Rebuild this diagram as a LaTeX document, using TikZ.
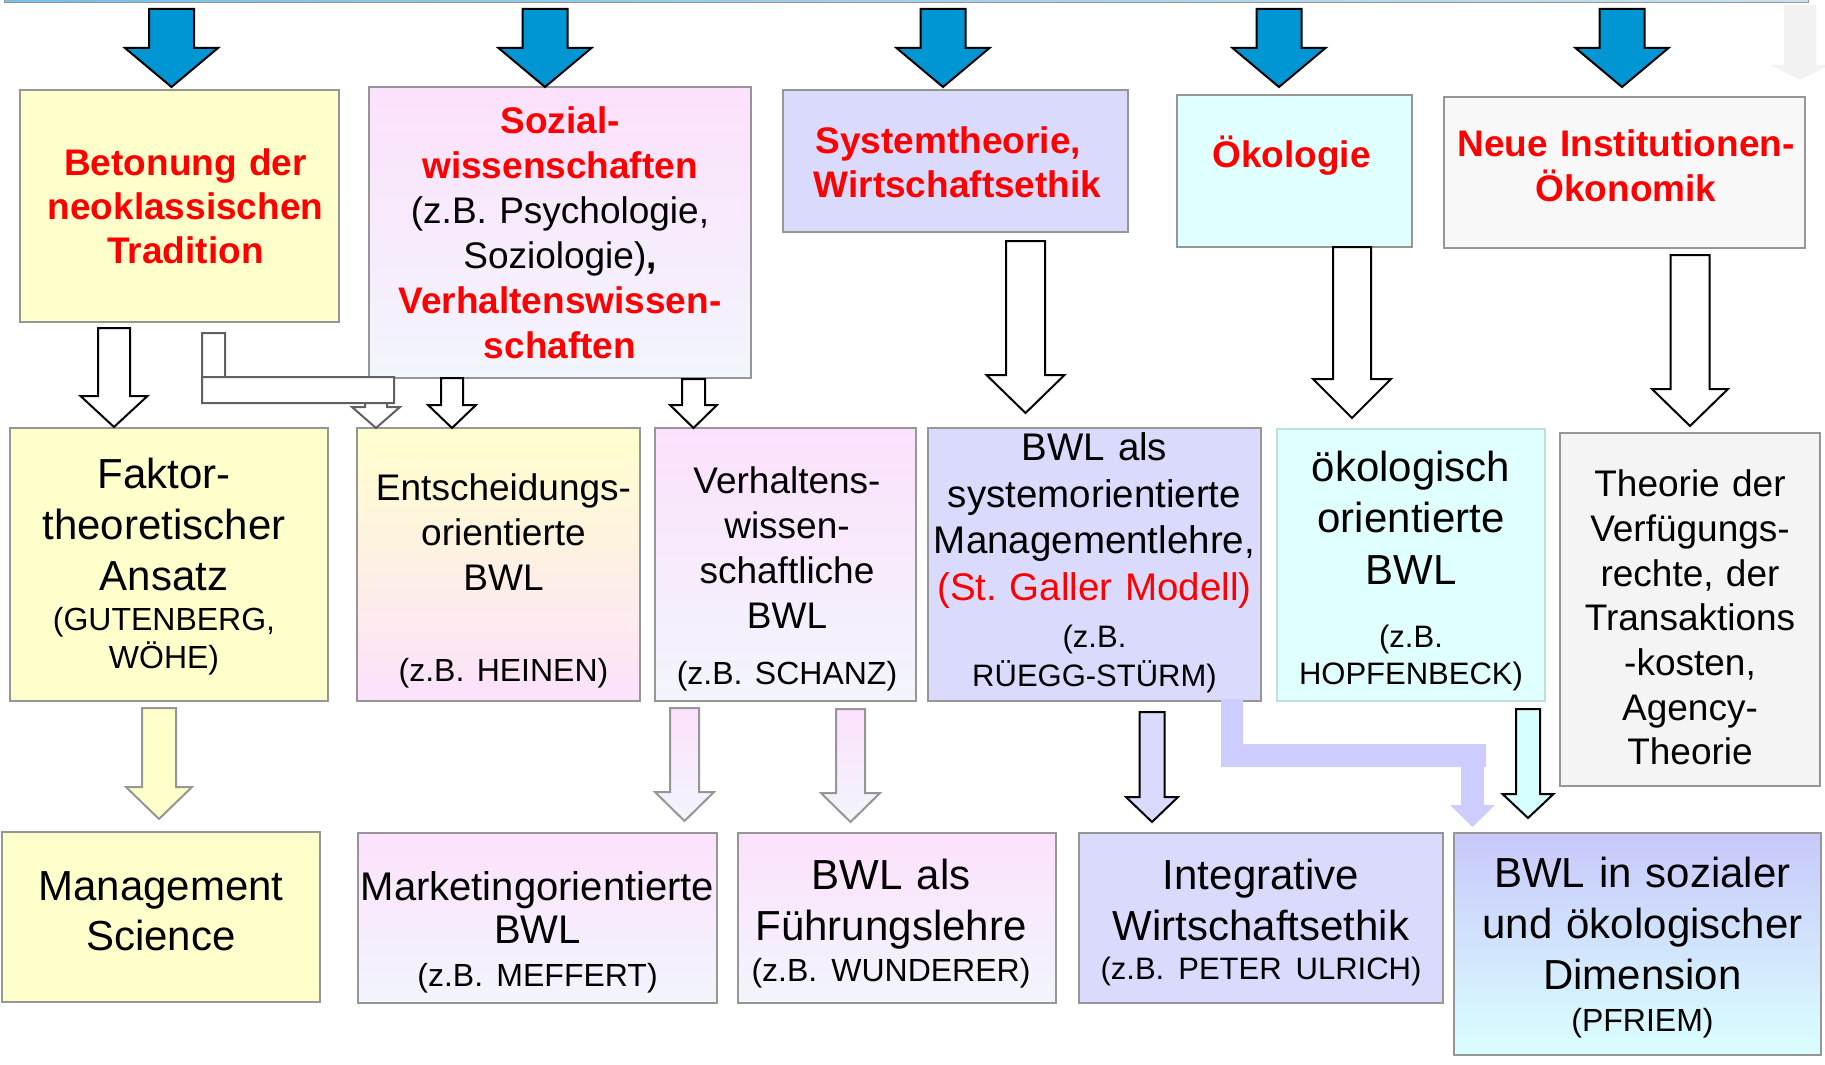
\documentclass[tikz,border=0pt]{standalone}
\usepackage{fontspec}
\setmainfont{Liberation Sans}
\usetikzlibrary{calc}
\frenchspacing

\definecolor{yel}{RGB}{255,255,204}
\definecolor{pinkT}{RGB}{252,225,252}
\definecolor{pinkB}{RGB}{242,245,252}
\definecolor{lav}{RGB}{218,218,252}
\definecolor{lavA}{RGB}{204,204,255}
\definecolor{cyn}{RGB}{224,255,255}
\definecolor{cynA}{RGB}{216,255,255}
\definecolor{cynframe}{RGB}{192,222,222}
\definecolor{gry}{RGB}{244,244,244}
\definecolor{gryW}{RGB}{248,248,248}
\definecolor{frame}{RGB}{150,150,150}
\definecolor{elbgrey}{RGB}{96,96,96}
\definecolor{bluearr}{RGB}{0,150,212}
\definecolor{redtxt}{RGB}{255,0,0}
\definecolor{b5top}{RGB}{200,200,250}
\definecolor{b5bot}{RGB}{218,255,255}
\definecolor{barL}{RGB}{120,190,230}
\definecolor{barM}{RGB}{0,110,180}
\definecolor{barR}{RGB}{200,225,240}

\newcommand\fsz[2]{\fontsize{#1}{#2}\selectfont}

\tikzset{
  box/.style={draw=frame, line width=2pt, anchor=north west, inner sep=0pt, outer sep=0pt},
  lbl/.style={align=center, text width=420pt, inner sep=0pt},
  toptxt/.style={lbl, font=\fsz{37}{44}\bfseries, text=redtxt},
  blk/.code args={#1/#2/#3}{\def\bsw{#1}\def\bhw{#2}\def\bhl{#3}},
  gaps/.code args={#1/#2}{\def\bgt{#1}\def\bgb{#2}},
  hollow/.style={draw=black, line width=2pt, fill=white},
  soft/.style={draw=frame, line width=2pt},
  bluearrow/.style={fill=bluearr, draw=black, line width=2pt, blk=22.5/46.5/39},
}

% block arrow: [style]{from anchor}{to anchor}{x of the axis}
\newcommand\blockarr[4][]{%
  \path[#1] let \p1=#2, \p2=#3, \n1={\y1-\bgt}, \n2={\y2+\bgb}, \n3={\n2+\bhl} in
    (#4-\bsw,\n1) -- (#4+\bsw,\n1) -- (#4+\bsw,\n3) -- (#4+\bhw,\n3)
    -- (#4,\n2) -- (#4-\bhw,\n3) -- (#4-\bsw,\n3) -- cycle;}

\begin{document}
\begin{tikzpicture}[x=1pt,y=1pt]
  \useasboundingbox (0,0) rectangle (1825,-1065);

  \node[draw=frame, line width=1pt, outer sep=0pt, inner sep=0pt, anchor=north west,
        minimum width=1804pt, minimum height=5pt,
        left color=barL, middle color=barM, right color=barR] (bar) at (4,2) {};

  % top row
  \node[box, fill=yel, minimum width=319pt, minimum height=232pt] (t1) at (20,-90) {};
  \node[box, top color=pinkT, bottom color=pinkB, minimum width=382pt, minimum height=291pt] (t2) at (369,-87) {};
  \node[box, fill=lav, minimum width=345pt, minimum height=142pt] (t3) at (783,-90) {};
  \node[box, fill=cyn, minimum width=235pt, minimum height=152pt] (t4) at (1177,-95) {};
  \node[box, fill=gryW, minimum width=361pt, minimum height=151pt] (t5) at (1444,-97) {};

  \node[toptxt] (t1l) at ([xshift=6pt]t1.center) {Betonung der\par neoklassischen\par Tradition};
  \node[toptxt, font=\fsz{37}{45}\bfseries] (t2l) at (t2.center)
    {Sozial-\par wissenschaften\par
     \textcolor{black}{\mdseries\fsz{37}{45}(z.B. Psychologie,}\par
     \textcolor{black}{{\mdseries\fsz{37}{45}Soziologie)},}\par
     Verhaltenswissen-\par schaften};
  \node[toptxt] (t3l) at ([xshift=2pt,yshift=-1.5pt]t3.center) {Systemtheorie,\kern0.5em\par Wirtschaftsethik};
  \node[toptxt] (t4l) at ([xshift=-3pt,yshift=15.5pt]t4.center) {Ökologie};
  \node[toptxt, font=\fsz{37}{45}\bfseries] (t5l) at ([xshift=1.5pt,yshift=6.5pt]t5.center) {Neue Institutionen-\par Ökonomik};

  % middle row
  \node[box, fill=yel, minimum width=318pt, minimum height=273pt] (m1) at (10,-428) {};
  \node[box, top color=yel, bottom color=pinkT, minimum width=283pt, minimum height=273pt] (m2) at (357,-428) {};
  \node[box, top color=pinkT, bottom color=pinkB, minimum width=261pt, minimum height=273pt] (m3) at (655,-428) {};
  \node[box, fill=lav, minimum width=333pt, minimum height=273pt] (m4) at (928,-428) {};
  \node[box, draw=cynframe, fill=cyn, minimum width=268pt, minimum height=272pt] (m5) at (1277,-429) {};
  \node[box, fill=gry, minimum width=260pt, minimum height=353pt] (m6) at (1560,-433) {};

  \node[lbl, font=\fsz{42}{51.3}] (m1l) at ([xshift=-5pt,yshift=-2.2pt]m1.center)
    {Faktor-\par theoretischer\par Ansatz\par\vskip-11.8pt\relax
     \fsz{32}{51.3}(GUTENBERG,\par\vskip-12.8pt\relax WÖHE)};
  \node[lbl, font=\fsz{37}{45}] (m2l) at ([xshift=5pt,yshift=-16.6pt]m2.center)
    {Entscheidungs-\par orientierte\par BWL\par\vskip45.7pt\relax
     \fsz{32}{45}(z.B. HEINEN)};
  \node[lbl, font=\fsz{37}{44.7}] (m3l) at ([xshift=1.5pt,yshift=-14.5pt]m3.center)
    {Verhaltens-\par wissen-\par schaftliche\par BWL\par\vskip11.5pt\relax
     \fsz{32}{44.7}(z.B. SCHANZ)};
  \node[lbl, font=\fsz{38.5}{46.5}] (m4l) at ([yshift=1.5pt]m4.center)
    {BWL als\par systemorientierte\par Managementlehre,\par
     \textcolor{redtxt}{(St. Galler Modell)}\par\vskip0.7pt\relax
     \fsz{31}{46.5}(z.B.\par\vskip-7pt\relax RÜEGG-STÜRM)};
  \node[lbl, font=\fsz{42}{51.5}] (m5l) at ([yshift=-6pt]m5.center)
    {ökologisch\par orientierte\par BWL\par\vskip11.3pt\relax
     \fsz{31}{51.5}(z.B.\par\vskip-14pt\relax HOPFENBECK)};
  \node[lbl, font=\fsz{37}{44.7}] (m6l) at ([yshift=-8pt]m6.center)
    {Theorie der\par Verfügungs-\par rechte, der\par Transaktions\par -kosten,\par Agency-\par Theorie};

  % bottom row
  \node[box, fill=yel, minimum width=318pt, minimum height=170pt] (b1) at (2,-832) {};
  \node[box, top color=pinkT, bottom color=pinkB, minimum width=359pt, minimum height=170pt] (b2) at (358,-833) {};
  \node[box, top color=pinkT, bottom color=pinkB, minimum width=318pt, minimum height=170pt] (b3) at (738,-833) {};
  \node[box, fill=lav, minimum width=364pt, minimum height=170pt] (b4) at (1079,-833) {};
  \node[box, top color=b5top, bottom color=b5bot, minimum width=367pt, minimum height=222pt] (b5) at (1454,-833) {};

  \node[lbl, font=\fsz{42}{50}] (b1l) at ([yshift=6pt]b1.center) {Management\par Science};
  \node[lbl, font=\fsz{40}{43}] (b2l) at ([yshift=-14.5pt]b2.center)
    {Marketingorientierte\par BWL\par\fsz{32}{43}(z.B. MEFFERT)};
  \node[lbl, font=\fsz{42}{51}] (b3l) at ([xshift=-6pt,yshift=-5.6pt]b3.center)
    {BWL als\par Führungslehre\par\vskip-10.5pt\relax\fsz{32}{51}(z.B. WUNDERER)};
  \node[lbl, font=\fsz{42}{51}] (b4l) at ([yshift=-4.4pt]b4.center)
    {Integrative\par Wirtschaftsethik\par\vskip-11.6pt\relax\fsz{31}{51}(z.B. PETER ULRICH)};
  \node[lbl, font=\fsz{42}{51}] (b5l) at ([xshift=5pt,yshift=-3.5pt]b5.center)
    {BWL in sozialer\par und ökologischer\par Dimension\par\vskip-9.8pt\relax\fsz{32}{51}(PFRIEM)};

  % arrows from the bar
  \foreach \xa/\tb/\tg in {171.5/t1/3, 545/t2/0, 943/t3/3, 1279/t4/8, 1622/t5/10}
    \blockarr[bluearrow, gaps=6/\tg]{(bar.south)}{(\tb.north)}{\xa};
  \coordinate (fend) at (1800,-80);
  \blockarr[fill=black!5, blk=16/30/15, gaps=2/0]{(bar.south)}{(fend)}{1800};

  % top row -> middle row
  \blockarr[hollow, blk=16/33.5/31, gaps=6/1]{(t1.south)}{(m1.north)}{114};
  \blockarr[hollow, blk=11/24/23, gaps=0/0]{(t2.south)}{(m2.north)}{452};
  \blockarr[hollow, blk=11.5/23.5/23, gaps=1/0]{(t2.south)}{(m3.north)}{693.5};
  \blockarr[hollow, blk=19.5/39/38, gaps=9/15]{(t3.south)}{(m4.north)}{1025.5};
  \blockarr[hollow, blk=19/39/39, gaps=0/11]{(t4.south)}{(m5.north)}{1352};
  \blockarr[hollow, blk=19.5/38/37, gaps=7/7]{(t5.south)}{(m6.north)}{1690};
  \path[draw=elbgrey, line width=2pt, fill=white] let \p1=(t1.south), \p2=(m2.north) in
    (202,\y1-11) rectangle (225,-377)
    (202,-377) rectangle (394,-403)
    (365,-403) -- (387,-403) -- (387,-407) -- (400,-407) -- (376,\y2)
    -- (352,-407) -- (365,-407) -- cycle;

  % middle row -> bottom row
  \blockarr[soft, fill=yel, blk=17/33/32, gaps=7/13]{(m1.south)}{(b1.north)}{159};
  \blockarr[soft, top color=pinkT, bottom color=pinkB, blk=14.5/29.5/29, gaps=7/12]{(m3.south)}{(b2.north)}{684.5};
  \blockarr[soft, top color=pinkT, bottom color=pinkB, blk=14.5/29.5/29, gaps=8/11]{(m3.south)}{(b3.north)}{850.5};
  \blockarr[hollow, fill=lav, blk=12.5/26/25, gaps=11/11]{(m4.south)}{(b4.north)}{1152};
  \blockarr[hollow, fill=cynA, blk=12/25.5/24, gaps=8/15]{(m5.south)}{(b5.north)}{1528};
  \path[fill=lavA] let \p1=(m4.south), \p2=(b5.north) in
    (1221,\y1+2) rectangle (1243,-767)
    (1221,-744) rectangle (1486,-767)
    (1461,-767) -- (1484,-767) -- (1484,-805) -- (1495,-805) -- (1472.5,\y2+6)
    -- (1450,-805) -- (1461,-805) -- cycle;
\end{tikzpicture}
\end{document}
